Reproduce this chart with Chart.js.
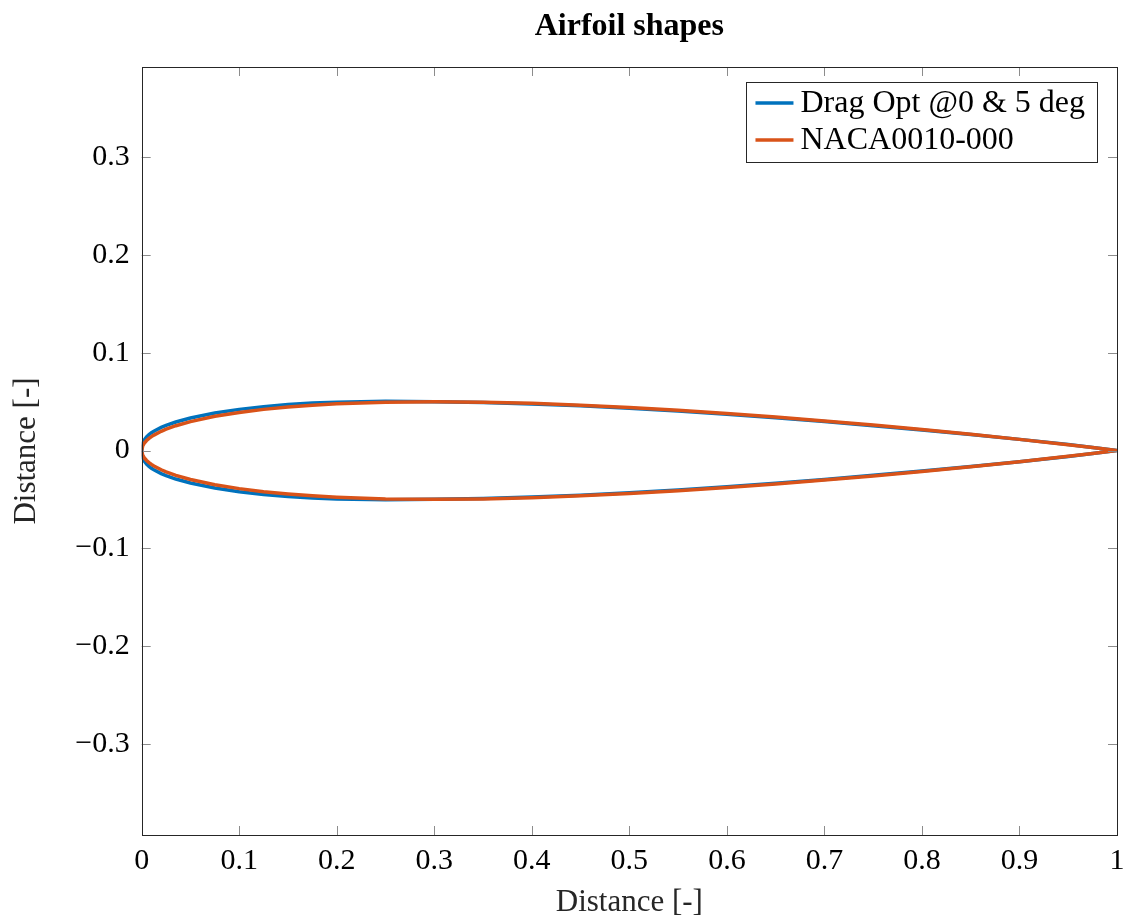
<!DOCTYPE html>
<html>
<head>
<meta charset="utf-8">
<script src="https://cdn.jsdelivr.net/npm/chart.js@4/dist/chart.umd.min.js"></script>
<style>
  body { margin: 0; background: #fff; }
  #wrap { width: 1129px; height: 921px; }
</style>
</head>
<body>
<div id="wrap"><canvas id="myChart" width="1129" height="921"></canvas></div>
<script>
// Chordwise stations (leading edge at 0, trailing edge at 1)
const stations = [0, 0.001, 0.0025, 0.005, 0.0075, 0.01, 0.0125, 0.02, 0.025, 0.035, 0.05, 0.075,
    0.1, 0.125, 0.15, 0.175, 0.2, 0.25, 0.3, 0.35, 0.4, 0.45, 0.5, 0.55, 0.6, 0.65, 0.7, 0.75,
    0.8, 0.85, 0.9, 0.95, 0.975, 1];

// Half thickness of the optimised section
const dragOptHalf = [0, 0.0073, 0.0105, 0.0139, 0.0163, 0.0182, 0.0198, 0.0237, 0.0257, 0.0292, 0.0332, 0.0384,
    0.0421, 0.0449, 0.0470, 0.0486, 0.0495, 0.0503, 0.0500, 0.0491, 0.0477, 0.0457, 0.0433, 0.0404, 0.0371, 0.0335, 0.0296, 0.0254,
    0.0210, 0.0164, 0.0114, 0.0061, 0.0031, 0];

// Half thickness of the baseline NACA section
const nacaHalf = [0, 0.0046, 0.0073, 0.0102, 0.0124, 0.0142, 0.0158, 0.0197, 0.0218, 0.0254, 0.0296, 0.0350,
    0.0390, 0.0421, 0.0445, 0.0464, 0.0478, 0.0495, 0.0500, 0.0495, 0.0483, 0.0464, 0.0441, 0.0412, 0.0379, 0.0343, 0.0303, 0.0260,
    0.0214, 0.0166, 0.0114, 0.0059, 0.0030, 0];

const seriesNames = ['Drag Opt @0 & 5 deg', 'NACA0010-000'];
const xTicks = [0, 0.1, 0.2, 0.3, 0.4, 0.5, 0.6, 0.7, 0.8, 0.9, 1];
const yTicks = [-0.3, -0.2, -0.1, 0, 0.1, 0.2, 0.3];

const FONT = "'Liberation Serif', 'Times New Roman', serif";

// Closed outline: upper surface TE -> LE, then lower surface LE -> TE
function outline(half) {
    const pts = [];
    for (let i = stations.length - 1; i >= 0; i--) pts.push({ x: stations[i], y: half[i] });
    for (let i = 1; i < stations.length; i++) pts.push({ x: stations[i], y: -half[i] });
    return pts;
}

function fmt(v) {
    const s = String(+v.toFixed(1));
    return v < 0 ? '\u2212' + s.slice(1) : s;
}

// Box around the axes with inward tick marks on all four sides
const boxAxes = {
    id: 'boxAxes',
    afterDatasetsDraw(chart) {
        const { ctx, chartArea: a, scales } = chart;
        ctx.save();
        ctx.strokeStyle = '#8c8c8c';
        ctx.lineWidth = 1;
        const len = 9;
        ctx.beginPath();
        xTicks.forEach(t => {
            const px = Math.round(scales.x.getPixelForValue(t)) + 0.5;
            ctx.moveTo(px, a.bottom); ctx.lineTo(px, a.bottom - len);
            ctx.moveTo(px, a.top); ctx.lineTo(px, a.top + len);
        });
        yTicks.forEach(t => {
            const py = Math.round(scales.y.getPixelForValue(t)) + 0.5;
            ctx.moveTo(a.left, py); ctx.lineTo(a.left + len, py);
            ctx.moveTo(a.right, py); ctx.lineTo(a.right - len, py);
        });
        ctx.stroke();
        ctx.strokeStyle = '#262626';
        ctx.strokeRect(Math.round(a.left) + 0.5, Math.round(a.top) + 0.5,
            Math.round(a.right - a.left), Math.round(a.bottom - a.top));
        ctx.restore();
    }
};

// Legend box in the upper right corner of the axes
const cornerLegend = {
    id: 'cornerLegend',
    afterDraw(chart) {
        const { ctx, chartArea: a } = chart;
        ctx.save();
        ctx.font = '32px ' + FONT;
        const textW = Math.max(...chart.data.datasets.map(d => ctx.measureText(d.label).width));
        const w = 54 + textW + 12;
        const left = a.right - 20 - w;
        const top = a.top + 15;
        ctx.fillStyle = '#fff';
        ctx.fillRect(left, top, w, 80);
        ctx.strokeStyle = '#262626';
        ctx.lineWidth = 1;
        ctx.strokeRect(Math.round(left) + 0.5, top + 0.5, Math.round(w), 80);
        chart.data.datasets.forEach((d, i) => {
            const cy = top + 21 + i * 37;
            ctx.strokeStyle = d.borderColor;
            ctx.lineWidth = 3.5;
            ctx.beginPath();
            ctx.moveTo(left + 9, cy);
            ctx.lineTo(left + 47, cy);
            ctx.stroke();
            ctx.fillStyle = '#000';
            ctx.textBaseline = 'middle';
            ctx.fillText(d.label, left + 54, cy + 1);
        });
        ctx.restore();
    }
};

const noEdgePadding = s => { s.paddingLeft = 0; s.paddingRight = 0; s.paddingTop = 0; s.paddingBottom = 0; };

const ctx = document.getElementById('myChart').getContext('2d');

new Chart(ctx, {
    type: 'scatter',
    data: {
        datasets: [
            {
                label: seriesNames[0],
                data: outline(dragOptHalf),
                showLine: true,
                borderColor: '#0072BD',
                borderWidth: 3.5,
                pointRadius: 0,
                order: 2
            },
            {
                label: seriesNames[1],
                data: outline(nacaHalf),
                showLine: true,
                borderColor: '#D95319',
                borderWidth: 3.5,
                pointRadius: 0,
                order: 1
            }
        ]
    },
    options: {
        responsive: false,
        animation: false,
        layout: { padding: { left: 0, right: 12, top: 0, bottom: 0 } },
        plugins: {
            legend: { display: false },
            tooltip: { enabled: false },
            title: {
                display: true,
                text: 'Airfoil shapes',
                fullSize: false,
                color: '#000',
                font: { family: FONT, size: 32, weight: 'bold', lineHeight: 1.2 },
                padding: { top: 8, bottom: 20.6 }
            }
        },
        scales: {
            x: {
                type: 'linear',
                min: 0,
                max: 1,
                afterFit: s => { s.height = 86; noEdgePadding(s); },
                afterBuildTicks: s => { s.ticks = xTicks.map(v => ({ value: v })); },
                grid: { display: false, drawTicks: false },
                border: { display: false },
                ticks: {
                    padding: 8,
                    color: '#000',
                    maxRotation: 0,
                    autoSkip: false,
                    font: { family: FONT, size: 30 },
                    callback: v => fmt(v)
                },
                title: {
                    display: true,
                    text: 'Distance [-]',
                    color: '#262626',
                    font: { family: FONT, size: 31, lineHeight: 1.2 },
                    padding: { top: 0, bottom: 0 }
                }
            },
            y: {
                type: 'linear',
                min: -0.3935,
                max: 0.3925,
                afterFit: s => { s.width = 141.7; noEdgePadding(s); },
                afterBuildTicks: s => { s.ticks = yTicks.map(v => ({ value: v })); },
                grid: { display: false, drawTicks: false },
                border: { display: false },
                ticks: {
                    padding: 12,
                    color: '#000',
                    autoSkip: false,
                    font: { family: FONT, size: 30 },
                    callback: v => fmt(v)
                },
                title: {
                    display: true,
                    text: 'Distance [-]',
                    color: '#262626',
                    font: { family: FONT, size: 31, lineHeight: 1.2 },
                    padding: { top: 8, bottom: 0 }
                }
            }
        }
    },
    plugins: [boxAxes, cornerLegend]
});
</script>
</body>
</html>
